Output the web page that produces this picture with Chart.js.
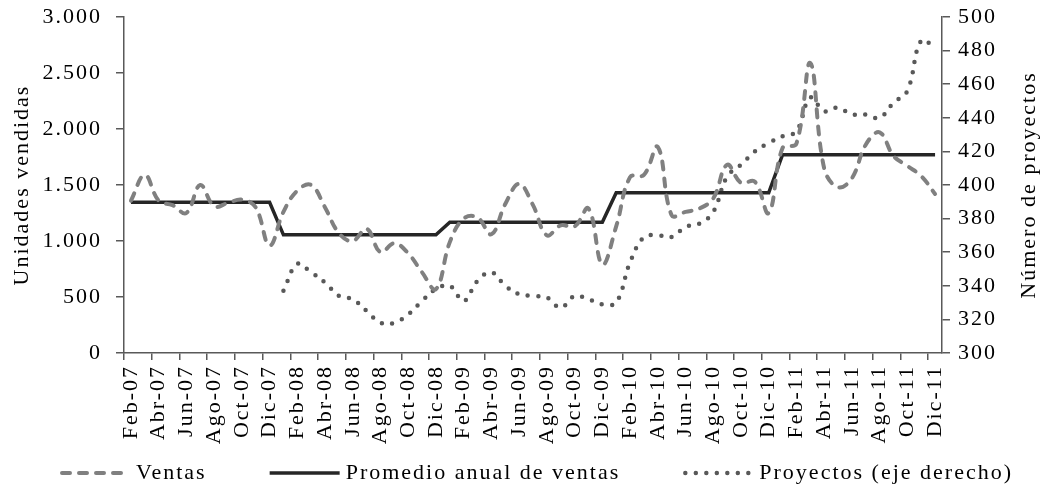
<!DOCTYPE html>
<html>
<head>
<meta charset="utf-8">
<script src="https://cdn.jsdelivr.net/npm/chart.js@4"></script>
<style>
  html, body { margin: 0; padding: 0; background: #fff; }
  #wrap { width: 1046px; height: 495px; }
</style>
</head>
<body>
<div id="wrap"><canvas id="chart"></canvas></div>
<script>
const labels = [
  'Feb-07', 'Mar-07', 'Abr-07', 'May-07', 'Jun-07', 'Jul-07', 'Ago-07', 'Sep-07', 'Oct-07', 'Nov-07', 'Dic-07',
  'Ene-08', 'Feb-08', 'Mar-08', 'Abr-08', 'May-08', 'Jun-08', 'Jul-08', 'Ago-08', 'Sep-08', 'Oct-08', 'Nov-08', 'Dic-08',
  'Ene-09', 'Feb-09', 'Mar-09', 'Abr-09', 'May-09', 'Jun-09', 'Jul-09', 'Ago-09', 'Sep-09', 'Oct-09', 'Nov-09', 'Dic-09',
  'Ene-10', 'Feb-10', 'Mar-10', 'Abr-10', 'May-10', 'Jun-10', 'Jul-10', 'Ago-10', 'Sep-10', 'Oct-10', 'Nov-10', 'Dic-10',
  'Ene-11', 'Feb-11', 'Mar-11', 'Abr-11', 'May-11', 'Jun-11', 'Jul-11', 'Ago-11', 'Sep-11', 'Oct-11', 'Nov-11', 'Dic-11'
];

// unidades vendidas por mes
const ventas = [
  1360, 1590, 1360, 1320, 1250, 1500, 1310, 1340, 1370, 1300, 960,
  1260, 1450, 1500, 1300, 1070, 1000, 1110, 900, 980, 890, 720, 570,
  990, 1200, 1210, 1060, 1330, 1510, 1320, 1050, 1140, 1130, 1290, 790,
  1130, 1570, 1590, 1840, 1230, 1260, 1290, 1380, 1680, 1520, 1530, 1250,
  1830, 1870, 2590, 1650, 1480, 1560, 1860, 1970, 1760, 1670, 1580, 1420
];

// promedio de cada año, repetido en sus meses
const promedio = [
  1345, 1345, 1345, 1345, 1345, 1345, 1345, 1345, 1345, 1345, 1345,
  1055, 1055, 1055, 1055, 1055, 1055, 1055, 1055, 1055, 1055, 1055, 1055,
  1167, 1167, 1167, 1167, 1167, 1167, 1167, 1167, 1167, 1167, 1167, 1167,
  1430, 1430, 1430, 1430, 1430, 1430, 1430, 1430, 1430, 1430, 1430, 1430,
  1770, 1770, 1770, 1770, 1770, 1770, 1770, 1770, 1770, 1770, 1770, 1770
];

// número de proyectos (eje derecho), sin datos en 2007
const proyectos = [
  null, null, null, null, null, null, null, null, null, null, null,
  337, 353, 348, 342, 334, 332, 325, 318, 318, 323, 331, 338,
  340, 331, 343, 348, 340, 335, 334, 333, 327, 334, 332, 329,
  330, 354, 369, 370, 369, 375, 377, 384, 405, 412, 420, 425,
  429, 432, 452, 444, 446, 442, 442, 440, 449, 456, 486, 482
];

const ejeIzqTicks = [0, 500, 1000, 1500, 2000, 2500, 3000];
const ejeDerTicks = [300, 320, 340, 360, 380, 400, 420, 440, 460, 480, 500];

const FONT = '"Liberation Serif", "Times New Roman", serif';
const SIZE = 22;
const SPACING = '2px';
const axisColor = '#595959';

function miles(v) {
  return String(v).replace(/\B(?=(\d{3})+(?!\d))/g, '.');
}

// el texto del original va algo espaciado
const espaciado = {
  id: 'espaciado',
  beforeUpdate(chart) { chart.ctx.letterSpacing = SPACING; },
  beforeDraw(chart) { chart.ctx.letterSpacing = SPACING; }
};

// título derecho (de abajo hacia arriba) y leyenda con las líneas punteadas
const extras = {
  id: 'extras',
  afterDraw(chart) {
    const ctx = chart.ctx;
    const s = chart.scales.y2;
    ctx.save();
    ctx.letterSpacing = SPACING;
    ctx.font = SIZE + 'px ' + FONT;
    ctx.fillStyle = '#000';
    ctx.translate(s.right - 17, (s.top + s.bottom) / 2);
    ctx.rotate(-Math.PI / 2);
    ctx.textAlign = 'center';
    ctx.textBaseline = 'middle';
    ctx.fillText('Número de proyectos', 0, 0);
    ctx.restore();

    ctx.save();
    ctx.letterSpacing = SPACING;
    ctx.font = SIZE + 'px ' + FONT;
    const lineLen = 70, gapText = 6, gapItem = 63, y = 473;
    let x = 60;
    chart.data.datasets.forEach(d => {
      ctx.beginPath();
      ctx.strokeStyle = d.borderColor;
      ctx.lineWidth = d.borderWidth;
      ctx.lineCap = d.borderCapStyle || 'butt';
      ctx.setLineDash(d.borderDash || []);
      ctx.moveTo(x + (d.borderDash ? 2 : 0), y);
      ctx.lineTo(x + lineLen, y);
      ctx.stroke();
      ctx.setLineDash([]);
      ctx.fillStyle = '#000';
      ctx.textAlign = 'left';
      ctx.textBaseline = 'middle';
      ctx.fillText(d.label, x + lineLen + gapText, y);
      x += lineLen + gapText + ctx.measureText(d.label).width + gapItem;
    });
    ctx.restore();
  }
};

function sinRelleno(scale) {
  scale.paddingTop = 0;
  scale.paddingBottom = 0;
}

new Chart(document.getElementById('chart'), {
  type: 'line',
  data: {
    labels: labels,
    datasets: [
      {
        label: 'Ventas',
        data: ventas,
        yAxisID: 'y',
        borderColor: '#808080',
        backgroundColor: '#808080',
        borderWidth: 4,
        borderDash: [8, 9],
        borderCapStyle: 'round',
        tension: 0.4,
        pointRadius: 0
      },
      {
        label: 'Promedio anual de ventas',
        data: promedio,
        yAxisID: 'y',
        borderColor: '#262626',
        backgroundColor: '#262626',
        borderWidth: 3.5,
        tension: 0,
        pointRadius: 0
      },
      {
        label: 'Proyectos (eje derecho)',
        data: proyectos,
        yAxisID: 'y2',
        borderColor: '#595959',
        backgroundColor: '#595959',
        borderWidth: 4.5,
        borderDash: [0, 10.5],
        borderCapStyle: 'round',
        tension: 0.4,
        pointRadius: 0,
        spanGaps: false
      }
    ]
  },
  options: {
    responsive: true,
    maintainAspectRatio: false,
    animation: false,
    layout: { padding: { top: 17, bottom: 46, left: 0, right: 0 } },
    plugins: {
      tooltip: { enabled: false },
      legend: { display: false }
    },
    scales: {
      x: {
        type: 'category',
        offset: true,
        afterFit(scale) { scale.height = 96; },
        grid: {
          offset: true,
          drawOnChartArea: false,
          drawTicks: true,
          tickLength: 7,
          lineWidth: 1.5,
          color: ctx => (ctx.index % 2 === 0 ? axisColor : 'rgba(0,0,0,0)')
        },
        border: { display: true, color: axisColor, width: 1.5 },
        ticks: {
          autoSkip: false,
          maxRotation: 90,
          minRotation: 90,
          padding: 5,
          color: '#000',
          font: { family: FONT, size: SIZE },
          callback(value, index) {
            return index % 2 === 0 ? labels[index] : '';
          }
        }
      },
      y: {
        position: 'left',
        min: 0,
        max: 3000,
        afterFit(scale) { scale.width = 124; sinRelleno(scale); },
        afterBuildTicks(scale) { scale.ticks = ejeIzqTicks.map(v => ({ value: v })); },
        grid: { drawOnChartArea: false, tickLength: 8, color: axisColor, lineWidth: 1.5 },
        border: { display: true, color: axisColor, width: 1.5 },
        title: {
          display: true,
          text: 'Unidades vendidas',
          color: '#000',
          font: { family: FONT, size: SIZE },
          padding: { top: 9, bottom: 0 }
        },
        ticks: {
          padding: 14,
          color: '#000',
          font: { family: FONT, size: SIZE },
          callback: v => miles(v)
        }
      },
      y2: {
        position: 'right',
        min: 300,
        max: 500,
        afterFit(scale) { scale.width = 104; sinRelleno(scale); },
        afterBuildTicks(scale) { scale.ticks = ejeDerTicks.map(v => ({ value: v })); },
        grid: { drawOnChartArea: false, tickLength: 8, color: axisColor, lineWidth: 1.5 },
        border: { display: true, color: axisColor, width: 1.5 },
        ticks: {
          padding: 8,
          color: '#000',
          font: { family: FONT, size: SIZE }
        }
      }
    }
  },
  plugins: [espaciado, extras]
});
</script>
</body>
</html>
